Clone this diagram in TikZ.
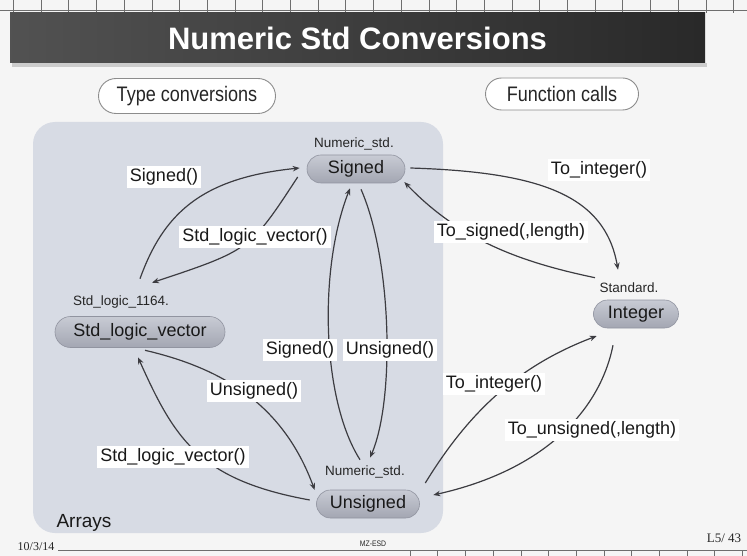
\documentclass[tikz,border=0pt]{standalone}
\usepackage{fontspec}
\setmainfont{Liberation Sans}
\newfontfamily\serifft{Liberation Serif}
\newfontfamily\narrowft[FakeStretch=0.86]{Liberation Sans}
\usetikzlibrary{shapes.misc,arrows.meta}
\definecolor{pagebg}{RGB}{245,245,245}
\definecolor{panelbg}{RGB}{215,219,228}
\definecolor{pilltop}{RGB}{200,203,212}
\definecolor{pillbot}{RGB}{163,166,178}
\definecolor{pilledge}{RGB}{145,148,160}
\definecolor{wire}{RGB}{60,60,65}
\definecolor{rulergray}{RGB}{110,110,110}

\begin{document}
\begin{tikzpicture}[x=1pt,y=-1pt,
  typebox/.style={rounded rectangle, inner sep=0pt, top color=pilltop,
    bottom color=pillbot, draw=pilledge, line width=0.6pt,
    font=\fontsize{18}{20}\selectfont, text=black!90},
  libtag/.style={inner sep=0pt, font=\fontsize{13.5}{15}\selectfont, text=black!85},
  fnlabel/.style={fill=white, inner xsep=3pt, inner ysep=2.5pt,
    font=\fontsize{18}{20}\selectfont, text=black!90},
  conv/.style={draw=wire, line width=1.2pt, -{Stealth[length=7pt,width=5.5pt]}},
  headpill/.style={rounded rectangle, draw=black!45, line width=0.9pt, fill=white,
    inner sep=0pt, font=\narrowft\fontsize{21}{23}\selectfont, text=black!85},
  ruler/.style={draw=rulergray, line width=0.6pt}
]
% page
\fill[pagebg] (0,0) rectangle (747,556);
\useasboundingbox (0,0) rectangle (747,556);

% top ruler
\draw[ruler] (0,10) -- (747,10);
\foreach \k in {0,...,26} \draw[ruler] ({13.3+27.7*\k},0) -- ++(0,13);

% title bar
\fill[black!20] (12,63) rectangle (707,67);
\node[minimum width=695pt, minimum height=50pt, inner sep=0pt,
      left color=black!68, right color=black!84, text=white,
      font=\bfseries\fontsize{31}{33}\selectfont] (title) at (357.5,38) {Numeric Std Conversions};

% header pills
\node[headpill, minimum width=177pt, minimum height=35pt] (tc) at (187,96) {Type conversions};
\node[headpill, minimum width=153pt, minimum height=32pt] (fc) at (562,94) {Function calls};

% array types panel
\node[fill=panelbg, rounded corners=22pt, minimum width=410pt, minimum height=411pt,
      inner sep=0pt] (panel) at (238,327.5) {};
\node[font=\fontsize{19}{21}\selectfont, text=black!90] (arrays) at (84,523) {Arrays};

% type nodes
\node[typebox, minimum width=98pt, minimum height=28pt] (sg) at (356,169) {Signed};
\node[typebox, minimum width=170pt, minimum height=31pt] (slv) at (140,332) {Std\_logic\_vector};
\node[typebox, minimum width=85pt, minimum height=28pt] (int) at (636,314) {Integer};
\node[typebox, minimum width=103pt, minimum height=28pt] (us) at (368,504) {Unsigned};

% package tags
\node[libtag] (tsg) at (354,144) {Numeric\_std.};
\node[libtag] (tslv) at (121,302) {Std\_logic\_1164.};
\node[libtag] (tint) at (629,288) {Standard.};
\node[libtag] (tus) at (365,472) {Numeric\_std.};

% conversions
\draw[conv] ([yshift=37.5pt]slv.north) .. controls (163,215) and (200,178) .. ([xshift=-7pt,yshift=1pt]sg.west);
\draw[conv] ([xshift=-9pt,yshift=-8pt]sg.west) .. controls (250,250) .. ([xshift=12pt,yshift=33.5pt]slv.north);
\draw[conv] ([xshift=5pt,yshift=1pt]sg.east) .. controls (540,172) and (605,195) .. ([xshift=-18pt,yshift=30pt]int.north);
\draw[conv] ([xshift=-41pt,yshift=22pt]int.north) .. controls (520,262) and (460,240) .. ([xshift=-1pt,yshift=-13pt]sg.east);
\draw[conv] ([xshift=-8pt,yshift=30pt]us.north) .. controls (322,400) and (318,270) .. ([xshift=-6pt,yshift=-5pt]sg.south);
\draw[conv] ([xshift=5pt,yshift=-6pt]sg.south) .. controls (392,260) and (395,400) .. ([xshift=2pt,yshift=32pt]us.north);
\draw[conv] ([xshift=5pt,yshift=-2.5pt]slv.south) .. controls (230,370) and (285,410) .. ([xshift=-1.5pt,yshift=14pt]us.west);
\draw[conv] ([xshift=-6.5pt,yshift=4pt]us.west) .. controls (200,480) and (175,440) .. ([xshift=-2pt,yshift=-9.5pt]slv.south);
\draw[conv] ([xshift=5.5pt,yshift=21pt]us.east) .. controls (470,410) and (520,365) .. ([xshift=3.5pt,yshift=-22pt]int.west);
\draw[conv] ([xshift=-23pt,yshift=-17pt]int.south) .. controls (600,410) and (545,470) .. ([xshift=13.5pt,yshift=9pt]us.east);

% function names on the conversions
\node[fnlabel] (f1) at (164,177) {Signed()};
\node[fnlabel] (f2) at (255,237) {Std\_logic\_vector()};
\node[fnlabel] (f3) at (599,170) {To\_integer()};
\node[fnlabel] (f4) at (511,232) {To\_signed(,length)};
\node[fnlabel] (f5) at (300,350) {Signed()};
\node[fnlabel] (f6) at (390,350) {Unsigned()};
\node[fnlabel] (f7) at (254,391) {Unsigned()};
\node[fnlabel] (f8) at (173,457) {Std\_logic\_vector()};
\node[fnlabel] (f9) at (494,384) {To\_integer()};
\node[fnlabel] (f10) at (592,430) {To\_unsigned(,length)};

% footer
\draw[ruler] (58,550) -- (747,550);
\foreach \k in {0,...,12} \draw[ruler] ({410+27.7*\k},550) -- ++(0,6);
\node[font=\serifft\fontsize{12}{13}\selectfont, text=black!85] (date) at (36,547) {10/3/14};
\node[font=\narrowft\fontsize{8}{9}\selectfont, text=black!85] (org) at (373,544) {MZ-ESD};
\node[font=\serifft\fontsize{13}{14}\selectfont, text=black!85] (page) at (724,538) {L5/ 43};
\end{tikzpicture}
\end{document}
